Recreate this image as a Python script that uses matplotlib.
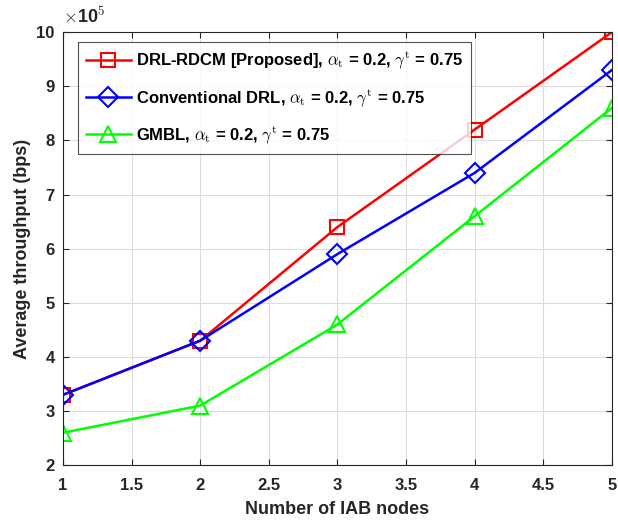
import matplotlib.pyplot as plt

plt.rcParams['font.family'] = ['Liberation Sans', 'DejaVu Sans']
plt.rcParams['font.weight'] = 'bold'
plt.rcParams['axes.labelweight'] = 'bold'
plt.rcParams['mathtext.fontset'] = 'cm'

# Data (throughput in units of 1e5 bps)
nodes = [1, 2, 3, 4, 5]
drl_rdcm = [3.3, 4.3, 6.4, 8.2, 10.0]
conv_drl = [3.3, 4.3, 5.9, 7.4, 9.3]
gmbl = [2.6, 3.1, 4.6, 6.6, 8.6]
xticks = [1, 1.5, 2, 2.5, 3, 3.5, 4, 4.5, 5]
yticks = [2, 3, 4, 5, 6, 7, 8, 9, 10]

fig = plt.figure(figsize=(6.18, 5.28), dpi=100)
ax = fig.add_axes([0.102, 0.119, 0.888, 0.820])

suffix = r', $\alpha_{\rm t}$ = 0.2, $\gamma^{\rm t}$ = 0.75'
ax.plot(nodes, drl_rdcm, color='#ff0000', lw=1.8, marker='s', ms=10,
        mfc='none', mew=1.5, label='DRL-RDCM [Proposed]' + suffix)
ax.plot(nodes, conv_drl, color='#0000ff', lw=1.8, marker='D', ms=10,
        mfc='none', mew=1.5, label='Conventional DRL' + suffix)
ax.plot(nodes, gmbl, color='#00ff00', lw=1.8, marker='^', ms=12,
        mfc='none', mew=1.5, label='GMBL' + suffix)

ax.set_xlim(1, 5)
ax.set_ylim(2, 10)
ax.set_xticks(xticks)
ax.set_xticklabels([f'{t:g}' for t in xticks])
ax.set_yticks(yticks)
ax.tick_params(direction='in', top=True, right=True, labelsize=12, length=4,
               colors='#262626')
ax.tick_params(axis='x', pad=9)
ax.tick_params(axis='y', pad=6)
ax.grid(True, color='#dcdcdc', lw=0.8)
for s in ax.spines.values():
    s.set_color('#262626')
    s.set_linewidth(0.8)

ax.set_xlabel('Number of IAB nodes', fontsize=13, color='#262626', labelpad=6)
ax.set_ylabel('Average throughput (bps)', fontsize=13, color='#262626')
ax.text(0.0, 1.012, r'$\times$10$^5$', transform=ax.transAxes, fontsize=13,
        color='#262626', ha='left', va='bottom')

leg = ax.legend(loc='upper left', bbox_to_anchor=(0.022, 0.985), fontsize=12,
                frameon=True, fancybox=False, edgecolor='#262626',
                handlelength=2.7, handletextpad=0.3, borderpad=0.45,
                labelspacing=0.95, borderaxespad=0.2)
leg.get_frame().set_linewidth(0.8)

fig.savefig('out.png', dpi=100)
